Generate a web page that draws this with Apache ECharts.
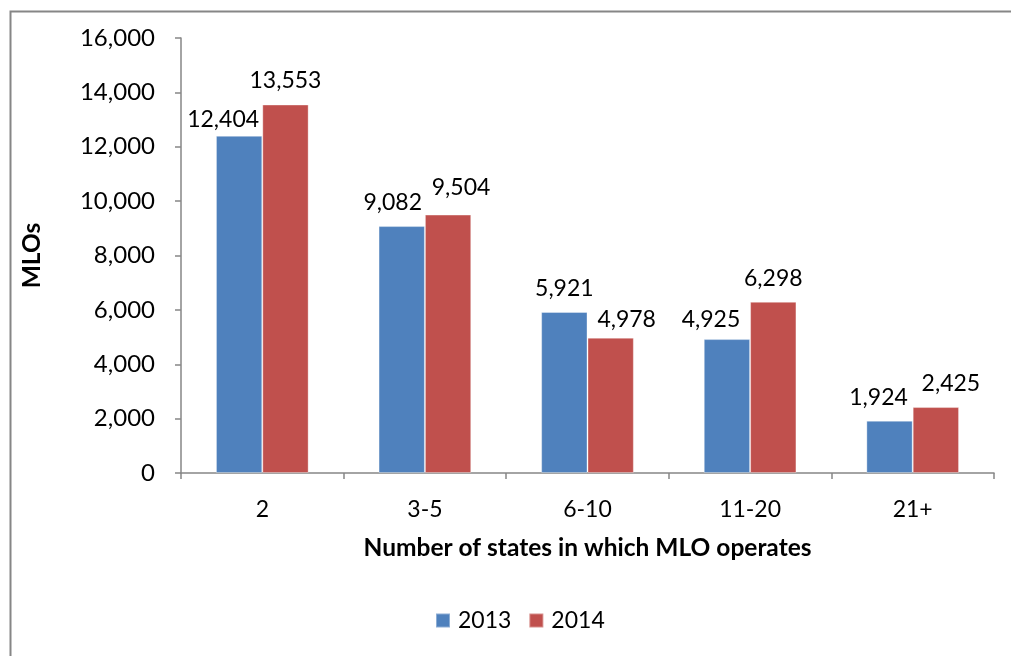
<!DOCTYPE html>
<html>
<head>
<meta charset="utf-8">
<script src="https://cdn.jsdelivr.net/npm/echarts@6/dist/echarts.min.js"></script>
<style>html,body{margin:0;padding:0;background:#fff;}#c{width:1011px;height:656px;}</style>
</head>
<body>
<div id="c"></div>
<script>
var categories = ['2', '3-5', '6-10', '11-20', '21+'];
var series2013 = [12404, 9082, 5921, 4925, 1924];
var series2014 = [13553, 9504, 4978, 6298, 2425];
var seriesNames = ['2013', '2014'];

// label nudges (style only), mimicking the reference's label placement
var labelOffsets2013 = [[-16, 7], [-9, 0], [0, 0], [-16, 4], [-11, 0]];
var labelOffsets2014 = [[0, 0], [13, -4], [16, 5], [0, 0], [15, 0]];

function fmt(v) { return Number(v).toLocaleString('en-US'); }
var FONT = 'Lato';
var FS = 23;
function items(vals, offs) {
  return vals.map(function (v, i) {
    return {value: v, label: {offset: offs[i]}};
  });
}
var chart = echarts.init(document.getElementById('c'), null, {renderer: 'canvas'});
var axisColor = '#868686';
var labelCfg = {show: true, position: 'top', distance: 12, fontSize: FS, color: '#000',
  fontFamily: FONT, formatter: function (p) { return fmt(p.value); }};
chart.setOption({
  animation: false,
  textStyle: {fontFamily: FONT},
  graphic: [{
    type: 'rect', left: 8, top: 9, z: -1,
    shape: {width: 1100, height: 700},
    style: {fill: 'none', stroke: '#868686', lineWidth: 2}
  }],
  grid: {left: 181, right: 17, top: 38, bottom: 183, containLabel: false},
  legend: {
    data: seriesNames, bottom: 19, left: 430,
    itemWidth: 14, itemHeight: 14, itemGap: 17,
    icon: 'rect',
    textStyle: {fontSize: FS, color: '#000', fontFamily: FONT, padding: [0, 0, 0, 3]}
  },
  xAxis: {
    type: 'category', data: categories,
    axisLine: {lineStyle: {color: axisColor, width: 1.5}},
    axisTick: {show: true, length: 6, lineStyle: {color: axisColor, width: 1.5}},
    axisLabel: {fontSize: FS, color: '#000', margin: 25, fontFamily: FONT},
    name: 'Number of states in which MLO operates',
    nameLocation: 'middle', nameGap: 63,
    nameTextStyle: {fontSize: 24.5, fontWeight: 'bold', color: '#000', fontFamily: FONT}
  },
  yAxis: {
    type: 'value', min: 0, max: 16000, interval: 2000,
    axisLine: {show: true, lineStyle: {color: axisColor, width: 1.5}},
    axisTick: {show: true, length: 6, lineStyle: {color: axisColor, width: 1.5}},
    splitLine: {show: false},
    axisLabel: {fontSize: 24, color: '#000', margin: 26, formatter: fmt, fontFamily: FONT},
    name: 'MLOs', nameLocation: 'middle', nameGap: 136, nameRotate: 90,
    nameTextStyle: {fontSize: 24.5, fontWeight: 'bold', color: '#000', fontFamily: FONT}
  },
  series: [
    {
      name: seriesNames[0], type: 'bar', data: items(series2013, labelOffsets2013),
      barGap: '0%', barCategoryGap: '43%',
      itemStyle: {color: '#4F81BD', borderColor: 'rgba(255,255,255,0.35)', borderWidth: 1},
      label: labelCfg
    },
    {
      name: seriesNames[1], type: 'bar', data: items(series2014, labelOffsets2014),
      barGap: '0%', barCategoryGap: '43%',
      itemStyle: {color: '#C0504D', borderColor: 'rgba(255,255,255,0.35)', borderWidth: 1},
      label: labelCfg
    }
  ]
});
</script>
</body>
</html>
